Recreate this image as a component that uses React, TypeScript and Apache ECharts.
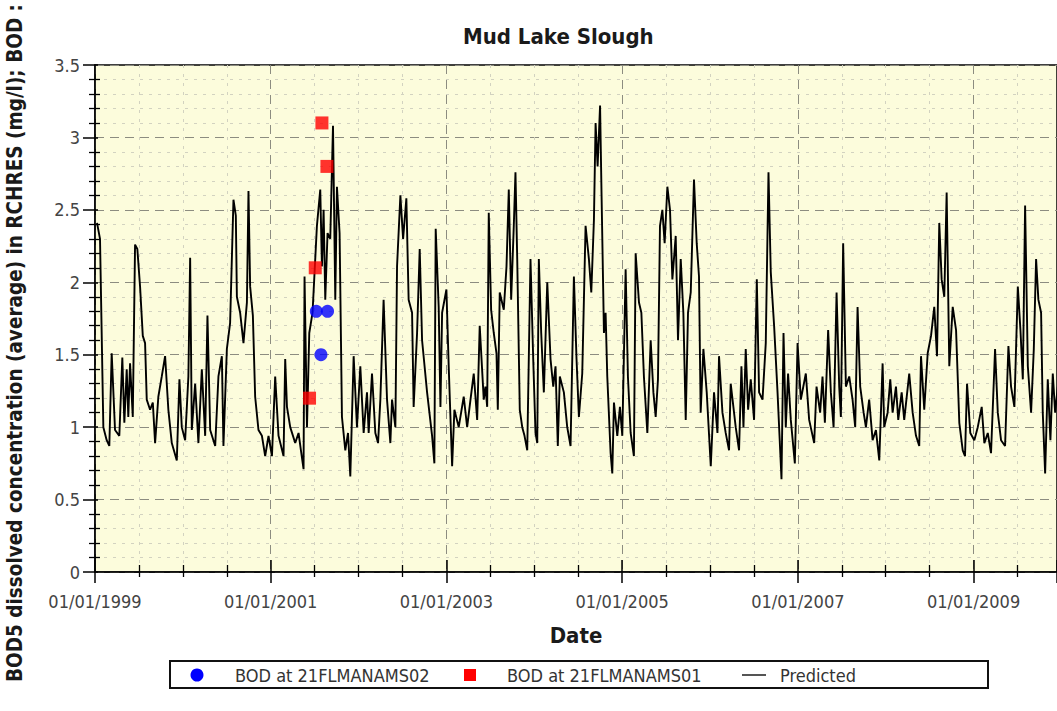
import React, { useEffect, useRef } from "react";
import * as echarts from "echarts";

const FONT = "'DejaVu Sans Condensed', 'DejaVu Sans', sans-serif";

const chartTitle = "Mud Lake Slough";
const xAxisTitle = "Date";
const yAxisTitle = "BOD5 dissolved concentration (average) in RCHRES (mg/l); BOD :";
const legendNames = ["BOD at 21FLMANAMS02", "BOD at 21FLMANAMS01", "Predicted"];

const xMin = 1999;
const xMax = 2009.95;
const yTicks = [0, 0.5, 1, 1.5, 2, 2.5, 3, 3.5];

// Predicted series: decimal year, value (mg/l)
const predictedYears = [
  1999.023, 1999.057, 1999.095, 1999.133, 1999.163, 1999.19, 1999.228, 1999.277, 1999.311, 1999.334,
  1999.361, 1999.379, 1999.399, 1999.43, 1999.456, 1999.482, 1999.513, 1999.544, 1999.57, 1999.589,
  1999.627, 1999.658, 1999.684, 1999.721, 1999.76, 1999.798, 1999.835, 1999.874, 1999.931, 1999.961,
  1999.988, 2000.026, 2000.063, 2000.083, 2000.102, 2000.14, 2000.177, 2000.216, 2000.254, 2000.28,
  2000.311, 2000.368, 2000.405, 2000.444, 2000.462, 2000.501, 2000.538, 2000.576, 2000.603, 2000.615,
  2000.652, 2000.69, 2000.729, 2000.747, 2000.766, 2000.797, 2000.823, 2000.861, 2000.9, 2000.937,
  2000.975, 2001.014, 2001.051, 2001.089, 2001.146,
  2001.165, 2001.185, 2001.222, 2001.279, 2001.317, 2001.344, 2001.374, 2001.385, 2001.413, 2001.439,
  2001.476, 2001.526, 2001.564, 2001.583, 2001.602, 2001.621, 2001.647, 2001.678, 2001.709, 2001.735,
  2001.754, 2001.784, 2001.811, 2001.849, 2001.88, 2001.906, 2001.944, 2001.982, 2002.02, 2002.058,
  2002.096, 2002.115, 2002.153, 2002.191, 2002.222, 2002.248, 2002.285, 2002.324, 2002.362, 2002.381,
  2002.419, 2002.438, 2002.476, 2002.507, 2002.544, 2002.57, 2002.609, 2002.627, 2002.666, 2002.696,
  2002.723, 2002.78, 2002.837, 2002.863, 2002.878, 2002.912, 2002.932, 2002.951, 2003.0, 2003.026,
  2003.065, 2003.091, 2003.14, 2003.197, 2003.236, 2003.274, 2003.311, 2003.35,
  2003.379, 2003.425, 2003.444, 2003.464, 2003.482, 2003.509, 2003.539, 2003.57, 2003.585, 2003.607,
  2003.653, 2003.684, 2003.71, 2003.737, 2003.767, 2003.786, 2003.806, 2003.835, 2003.863, 2003.889,
  2003.92, 2003.957, 2003.988, 2004.014, 2004.034, 2004.052, 2004.079, 2004.109, 2004.148, 2004.185,
  2004.216, 2004.242, 2004.268, 2004.291, 2004.337, 2004.375, 2004.413, 2004.451, 2004.481, 2004.508,
  2004.546, 2004.584, 2004.622, 2004.649, 2004.679, 2004.698, 2004.721, 2004.749, 2004.766, 2004.793,
  2004.812, 2004.831, 2004.869, 2004.888, 2004.907, 2004.945, 2004.975, 2005.002, 2005.04, 2005.066,
  2005.097, 2005.134, 2005.154, 2005.192, 2005.219, 2005.248, 2005.287, 2005.325, 2005.356, 2005.382,
  2005.408, 2005.431, 2005.458,
  2005.484, 2005.515, 2005.545, 2005.572, 2005.61, 2005.636, 2005.667, 2005.697, 2005.724, 2005.75,
  2005.781, 2005.818, 2005.849, 2005.875, 2005.894, 2005.925, 2005.963, 2006.009, 2006.046, 2006.085,
  2006.103, 2006.142, 2006.179, 2006.217, 2006.236, 2006.293, 2006.331, 2006.358, 2006.381, 2006.407,
  2006.434, 2006.464, 2006.502, 2006.533, 2006.559, 2006.598, 2006.635, 2006.666, 2006.692, 2006.73,
  2006.769, 2006.814, 2006.837, 2006.863, 2006.889, 2006.92, 2006.966, 2006.997, 2007.034, 2007.091,
  2007.129, 2007.186, 2007.213, 2007.254, 2007.281, 2007.308, 2007.345, 2007.376, 2007.407, 2007.441,
  2007.471, 2007.49, 2007.516, 2007.547, 2007.585, 2007.623, 2007.653,
  2007.68, 2007.71, 2007.749, 2007.775, 2007.812, 2007.851, 2007.889, 2007.927, 2007.965, 2007.983,
  2008.022, 2008.052, 2008.079, 2008.117, 2008.143, 2008.182, 2008.211, 2008.268, 2008.307, 2008.345,
  2008.382, 2008.402, 2008.439, 2008.478, 2008.516, 2008.553, 2008.584, 2008.61, 2008.637, 2008.667,
  2008.694, 2008.724, 2008.763, 2008.801, 2008.838, 2008.877, 2008.903, 2008.926, 2008.963, 2009.009,
  2009.048, 2009.093, 2009.123, 2009.162, 2009.199, 2009.245, 2009.276, 2009.313, 2009.359, 2009.397,
  2009.427, 2009.465, 2009.504, 2009.534, 2009.561, 2009.587, 2009.618, 2009.655, 2009.686, 2009.712,
  2009.738, 2009.769, 2009.788, 2009.815, 2009.845, 2009.875, 2009.902, 2009.929, 2009.959, 2010.0,
];

const predictedValues = [
  2.41, 2.3, 1.0, 0.91, 0.87, 1.51, 0.98, 0.94, 1.48, 1.03,
  1.4, 1.07, 1.44, 1.07, 2.26, 2.23, 1.97, 1.63, 1.58, 1.19,
  1.12, 1.17, 0.89, 1.21, 1.35, 1.49, 1.12, 0.89, 0.77, 1.33,
  1.0, 0.91, 1.35, 2.17, 0.98, 1.3, 0.89, 1.4, 0.94, 1.77,
  0.98, 0.87, 1.35, 1.49, 0.87, 1.54, 1.72, 2.57, 2.46, 1.9,
  1.79, 1.58, 1.86, 2.63, 1.97, 1.77, 1.21, 0.98, 0.94, 0.8,
  0.94, 0.8, 1.35, 0.94, 0.8,
  1.47, 1.14, 1.0, 0.89, 0.96, 0.84, 0.71, 2.04, 1.0, 1.65,
  1.79, 2.39, 2.64, 2.11, 2.5, 1.88, 2.34, 2.3, 3.08, 1.88,
  2.66, 2.34, 1.07, 0.84, 0.96, 0.66, 1.49, 1.0, 1.42, 0.96,
  1.24, 0.96, 1.37, 0.96, 0.89, 1.19, 1.88, 1.19, 0.89, 1.19,
  1.0, 2.11, 2.6, 2.3, 2.58, 1.88, 1.79, 1.14, 1.65, 2.23,
  1.6, 1.24, 0.94, 0.75, 2.37, 1.83, 1.14, 1.79, 1.95, 1.42,
  0.73, 1.12, 1.0, 1.21, 1.0, 1.19, 1.37, 1.05,
  1.7, 1.19, 1.28, 1.14, 2.48, 1.81, 1.65, 1.51, 1.12, 1.93,
  1.81, 2.11, 2.64, 1.88, 2.39, 2.76, 2.16, 1.12, 1.0, 0.94,
  0.84, 2.16, 1.47, 0.96, 0.89, 2.16, 1.65, 1.24, 2.0, 1.47,
  1.28, 1.42, 0.87, 1.35, 1.24, 1.0, 0.87, 2.04, 1.47, 1.07,
  1.37, 2.39, 2.16, 1.93, 2.43, 3.1, 2.8, 3.22, 2.6, 1.65,
  1.79, 1.35, 0.82, 0.68, 1.17, 0.94, 1.14, 0.94, 2.09, 1.35,
  0.96, 0.8, 2.2, 1.86, 1.79, 1.35, 0.96, 1.6, 1.24, 1.07,
  1.33, 2.39, 2.5,
  2.27, 2.66, 2.5, 2.02, 2.32, 1.6, 2.16, 1.79, 1.05, 1.79,
  1.93, 2.71, 2.27, 2.04, 1.1, 1.54, 1.24, 0.73, 1.24, 0.96,
  1.49, 1.1, 0.96, 0.84, 1.3, 1.0, 0.84, 1.42, 1.0, 1.54,
  1.12, 1.33, 1.05, 2.02, 1.24, 1.19, 1.58, 2.76, 2.07, 1.7,
  1.24, 0.64, 1.65, 1.0, 1.37, 1.05, 0.75, 1.58, 1.19, 1.37,
  1.05, 0.89, 1.28, 1.1, 1.35, 1.03, 1.67, 1.24, 1.0, 1.93,
  1.28, 1.07, 2.27, 1.28, 1.35, 1.19, 1.0,
  1.83, 1.28, 1.1, 1.0, 1.19, 0.91, 0.98, 0.77, 1.44, 1.0,
  1.1, 1.33, 1.1, 1.28, 1.05, 1.24, 1.05, 1.37, 1.1, 0.94,
  0.87, 1.49, 1.12, 1.51, 1.63, 1.83, 1.49, 2.41, 2.02, 1.9,
  2.62, 1.42, 1.83, 1.67, 1.03, 0.84, 0.8, 1.3, 0.96, 0.91,
  1.0, 1.14, 0.89, 0.96, 0.82, 1.54, 1.1, 0.91, 0.87, 1.56,
  1.28, 1.14, 1.97, 1.67, 1.33, 2.53, 1.42, 1.1, 1.54, 2.16,
  1.88, 1.79, 1.1, 0.68, 1.33, 0.91, 1.37, 1.1, 1.28, 1.2,
];

// Observed BOD samples
const bod02Years = [2001.519, 2001.572, 2001.647];
const bod02Values = [1.8, 1.5, 1.8];
const bod01Years = [2001.442, 2001.507, 2001.583, 2001.64];
const bod01Values = [1.2, 2.1, 3.1, 2.8];

const pairs = (xs: number[], ys: number[]) => xs.map((x, i) => [x, ys[i]]);

const xLabel = (v: number) =>
  Math.abs(v - Math.round(v)) < 1e-6 ? `01/01/${Math.round(v)}` : "";

function buildOption(): any {
  const commonX = { type: "value", min: xMin, max: xMax, interval: 2, position: "bottom", gridIndex: 0 };
  const commonY = { type: "value", min: yTicks[0], max: yTicks[yTicks.length - 1], interval: 0.5, position: "left", gridIndex: 0 };
  const tickLine = { color: "#000", width: 1.5 };
  return {
    animation: false,
    backgroundColor: "#ffffff",
    textStyle: { fontFamily: FONT },
    title: {
      text: chartTitle,
      left: 463,
      top: 25,
      padding: 0,
      textStyle: { fontFamily: FONT, fontSize: 22, fontWeight: "bold", color: "#1a1a1a" },
    },
    grid: {
      left: 95,
      top: 65,
      right: 0,
      bottom: 139,
      show: true,
      backgroundColor: "#fcfcdc",
      borderColor: "#000",
      borderWidth: 1.5,
    },
    xAxis: [
      {
        ...commonX,
        axisLine: { show: true, onZero: false, lineStyle: tickLine },
        axisTick: { show: true, length: 11, lineStyle: tickLine },
        minorTick: { show: true, splitNumber: 4, length: 5, lineStyle: { color: "#000", width: 1.3 } },
        axisLabel: {
          formatter: xLabel,
          margin: 20,
          fontSize: 18,
          fontFamily: FONT,
          color: "#444",
          showMaxLabel: false,
        },
        splitLine: { show: true, lineStyle: { color: "#8c8c80", type: [9, 6], width: 1 } },
        minorSplitLine: { show: true, lineStyle: { color: "#d2d2c0", type: [3, 6], width: 1 } },
        name: xAxisTitle,
        nameLocation: "middle",
        nameGap: 52,
        nameTextStyle: { fontSize: 22, fontWeight: "bold", fontFamily: FONT, color: "#1a1a1a" },
      },
      {
        ...commonX,
        axisLine: { show: false },
        axisTick: { show: true, inside: true, length: 12, lineStyle: tickLine },
        minorTick: { show: true, splitNumber: 4, length: 7, lineStyle: { color: "#000", width: 1.3 } },
        axisLabel: { show: false },
        splitLine: { show: false },
      },
    ],
    yAxis: [
      {
        ...commonY,
        axisLine: { show: true, onZero: false, lineStyle: tickLine },
        axisTick: { show: true, length: 12, lineStyle: tickLine },
        minorTick: { show: true, splitNumber: 5, length: 6, lineStyle: { color: "#000", width: 1.3 } },
        axisLabel: { margin: 15, fontSize: 18, fontFamily: FONT, color: "#444" },
        splitLine: { show: true, lineStyle: { color: "#8c8c80", type: [9, 6], width: 1 } },
        minorSplitLine: { show: true, lineStyle: { color: "#d2d2c0", type: [3, 6], width: 1 } },
      },
      {
        ...commonY,
        axisLine: { show: false },
        axisTick: { show: true, inside: true, length: 3, lineStyle: tickLine },
        minorTick: { show: true, splitNumber: 5, length: 5, lineStyle: { color: "#000", width: 1.3 } },
        axisLabel: { show: false },
        splitLine: { show: false },
      },
    ],
    series: [
      {
        name: legendNames[2],
        type: "line",
        xAxisIndex: 0,
        yAxisIndex: 0,
        data: pairs(predictedYears, predictedValues),
        showSymbol: false,
        symbol: "none",
        lineStyle: { color: "#000", width: 1.9 },
        z: 2,
      },
      {
        name: legendNames[0],
        type: "scatter",
        xAxisIndex: 0,
        yAxisIndex: 0,
        data: pairs(bod02Years, bod02Values),
        symbol: "circle",
        symbolSize: 13,
        itemStyle: { color: "#0000ff" },
        z: 3,
      },
      {
        name: legendNames[1],
        type: "scatter",
        xAxisIndex: 0,
        yAxisIndex: 0,
        data: pairs(bod01Years, bod01Values),
        symbol: "rect",
        symbolSize: 13,
        itemStyle: { color: "#ff0000" },
        z: 3,
      },
    ],
    graphic: [
      {
        type: "text",
        x: 15,
        y: 4,
        rotation: Math.PI / 2,
        style: {
          text: yAxisTitle,
          fontSize: 20.5,
          fontWeight: "bold",
          fontFamily: FONT,
          fill: "#1a1a1a",
          textAlign: "right",
          align: "right",
          textVerticalAlign: "middle",
          verticalAlign: "middle",
        },
      },
      {
        type: "group",
        children: [
          {
            type: "rect",
            shape: { x: 170, y: 661, width: 818, height: 27 },
            style: { fill: "#ffffff", stroke: "#111", lineWidth: 2 },
          },
          { type: "circle", shape: { cx: 197, cy: 675, r: 6.5 }, style: { fill: "#0000ff" } },
          {
            type: "text",
            x: 235,
            y: 675,
            style: { text: legendNames[0], fontSize: 18, fontFamily: FONT, fill: "#333", textVerticalAlign: "middle", verticalAlign: "middle" },
          },
          { type: "rect", shape: { x: 464, y: 669, width: 12, height: 12 }, style: { fill: "#ff0000" } },
          {
            type: "text",
            x: 507,
            y: 675,
            style: { text: legendNames[1], fontSize: 18, fontFamily: FONT, fill: "#333", textVerticalAlign: "middle", verticalAlign: "middle" },
          },
          { type: "line", shape: { x1: 742, y1: 675, x2: 766, y2: 675 }, style: { stroke: "#555", lineWidth: 2 } },
          {
            type: "text",
            x: 780,
            y: 675,
            style: { text: legendNames[2], fontSize: 18, fontFamily: FONT, fill: "#333", textVerticalAlign: "middle", verticalAlign: "middle" },
          },
        ],
      },
    ],
  };
}

export default function App() {
  const ref = useRef<HTMLDivElement>(null);
  useEffect(() => {
    document.body.style.margin = "0";
    const chart = echarts.init(ref.current!, null, { renderer: "svg" });
    chart.setOption(buildOption());
    return () => chart.dispose();
  }, []);
  return (
    <div
      ref={ref}
      style={{ position: "absolute", left: 0, top: 0, width: 1057, height: 711 }}
    />
  );
}
